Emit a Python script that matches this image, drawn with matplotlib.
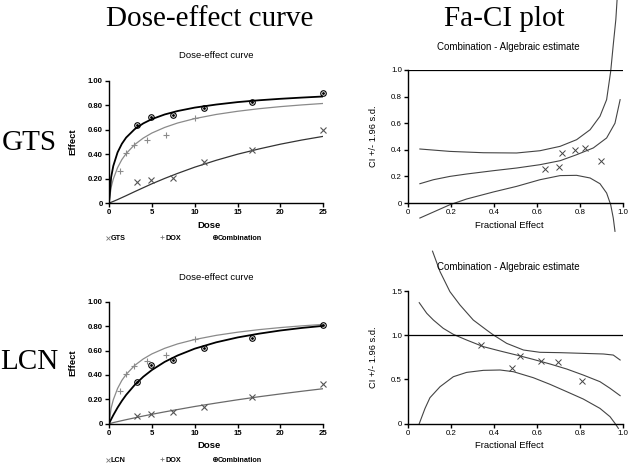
import matplotlib.pyplot as plt
import numpy as np

W, H = 630, 466

# dose-effect data (doses and fractional effects)
dose_drug = [3.29, 4.94, 7.41, 11.11, 16.67, 25]
dose_dox = [1.32, 1.98, 2.96, 4.44, 6.67, 10]
fa_gts = [0.169, 0.185, 0.207, 0.335, 0.430, 0.600]
fa_dox = [0.265, 0.405, 0.477, 0.518, 0.560, 0.695]
fa_combo_gts = [0.638, 0.703, 0.717, 0.776, 0.825, 0.897]
fa_lcn = [0.066, 0.082, 0.098, 0.134, 0.219, 0.325]
fa_combo_lcn = [0.339, 0.484, 0.522, 0.617, 0.699, 0.811]

# fitted curves
curve_dose = [0, 0.25, 0.5, 1, 1.5, 2, 3, 4, 5, 6.5, 8, 10, 12.5, 15, 17.5, 20, 22.5, 25]
curve_gts = [0, 0.006, 0.013, 0.028, 0.044, 0.060, 0.093, 0.125, 0.157, 0.201, 0.242, 0.293,
             0.349, 0.399, 0.442, 0.481, 0.515, 0.545]
curve_dox = [0, 0.128, 0.196, 0.289, 0.355, 0.404, 0.478, 0.531, 0.572, 0.618, 0.654, 0.690,
             0.724, 0.750, 0.771, 0.788, 0.802, 0.814]
curve_combo_gts = [0, 0.211, 0.303, 0.414, 0.484, 0.535, 0.604, 0.651, 0.686, 0.724, 0.752, 0.780,
                   0.805, 0.825, 0.840, 0.852, 0.862, 0.871]
curve_lcn = [0, 0.004, 0.009, 0.017, 0.025, 0.033, 0.048, 0.063, 0.077, 0.097, 0.116, 0.141,
             0.169, 0.196, 0.221, 0.244, 0.266, 0.287]
curve_combo_lcn = [0, 0.036, 0.070, 0.132, 0.187, 0.236, 0.318, 0.385, 0.440, 0.507, 0.559, 0.615,
                   0.667, 0.707, 0.738, 0.764, 0.785, 0.802]

# Fa-CI data
ci_gts = [0.256, 0.273, 0.376, 0.401, 0.416, 0.318]
ci_lcn = [0.890, 0.626, 0.769, 0.709, 0.701, 0.482]

gts_mid_fa = [0.054, 0.117, 0.194, 0.272, 0.397, 0.505, 0.614, 0.708, 0.785, 0.863, 0.925, 0.964, 0.988]
gts_mid_ci = [0.145, 0.175, 0.200, 0.218, 0.243, 0.263, 0.288, 0.318, 0.363, 0.414, 0.489, 0.600, 0.777]
gts_up_fa = [0.054, 0.194, 0.350, 0.505, 0.614, 0.708, 0.785, 0.848, 0.894, 0.925, 0.944, 0.956, 0.968, 0.975]
gts_up_ci = [0.406, 0.388, 0.378, 0.376, 0.393, 0.426, 0.476, 0.551, 0.652, 0.777, 0.990, 1.190, 1.380, 1.560]
gts_lo_fa = [0.054, 0.117, 0.194, 0.272, 0.397, 0.505, 0.614, 0.708, 0.785, 0.848, 0.894, 0.925, 0.944, 0.956, 0.964]
gts_lo_ci = [-0.113, -0.068, -0.013, 0.030, 0.083, 0.125, 0.175, 0.206, 0.208, 0.188, 0.145, 0.075,
             -0.013, -0.113, -0.213]

lcn_mid_fa = [0.051, 0.086, 0.117, 0.163, 0.21, 0.272, 0.35, 0.428, 0.505, 0.583, 0.661, 0.739, 0.816,
              0.894, 0.941, 0.988]
lcn_mid_ci = [1.368, 1.248, 1.172, 1.078, 1.010, 0.946, 0.871, 0.822, 0.776, 0.727, 0.675, 0.618, 0.550,
              0.475, 0.400, 0.317]
lcn_up_fa = [0.113, 0.148, 0.194, 0.241, 0.303, 0.365, 0.397, 0.459, 0.537, 0.614, 0.708, 0.816, 0.910,
             0.956, 0.988]
lcn_up_ci = [1.950, 1.719, 1.493, 1.342, 1.172, 1.059, 1.003, 0.908, 0.833, 0.807, 0.803, 0.795, 0.788,
             0.776, 0.720]
lcn_lo_fa = [0.051, 0.078, 0.101, 0.148, 0.21, 0.272, 0.35, 0.428, 0.49, 0.583, 0.661, 0.739, 0.816,
             0.894, 0.941, 0.964, 0.98]
lcn_lo_ci = [0.0, 0.173, 0.294, 0.418, 0.531, 0.580, 0.603, 0.607, 0.588, 0.520, 0.445, 0.362, 0.279,
             0.173, 0.079, 0.004, -0.053]

plt.rcParams['font.family'] = ['Liberation Sans', 'DejaVu Sans']

fig = plt.figure(figsize=(6.3, 4.66), dpi=100)


def px(x, y):
    return x / W, 1 - y / H


def add_ax(x0, y0, x1, y1):
    l, b = px(x0, y1)
    r, t = px(x1, y0)
    ax = fig.add_axes([l, b, r - l, t - b])
    ax.patch.set_visible(False)
    for s in ['top', 'right']:
        ax.spines[s].set_visible(False)
    for s in ['left', 'bottom']:
        ax.spines[s].set_linewidth(1.0)
    ax.tick_params(direction='out', length=3, width=1, pad=1.5)
    return ax


def dose_panel(y_top, y_bot, drug, fa_drug, fa_combo, c_drug, c_combo, drug_col, legend_y, title_y, xlabel_y):
    ax = add_ax(109, y_top, 323.3, y_bot)
    ax.plot(curve_dose, c_drug, color=drug_col, lw=0.9)
    ax.plot(curve_dose, curve_dox, color='#8a8a8a', lw=0.9)
    ax.plot(curve_dose, c_combo, color='black', lw=1.3)
    ax.plot(dose_drug, fa_drug, 'x', color='#555555', ms=4.5, mew=0.8, clip_on=False)
    ax.plot(dose_dox, fa_dox, '+', color='#8a8a8a', ms=5, mew=0.8, clip_on=False)
    ax.plot(dose_drug, fa_combo, 'o', mfc='none', mec='black', ms=4, mew=0.8, clip_on=False)
    ax.plot(dose_drug, fa_combo, '.', color='black', ms=2, clip_on=False)
    ax.set_xlim(0, 25)
    ax.set_ylim(0, 1)
    ax.set_xticks([0, 5, 10, 15, 20, 25])
    ax.set_yticks([0, 0.2, 0.4, 0.6, 0.8, 1.0])
    ax.set_yticklabels(['0', '0.20', '0.40', '0.60', '0.80', '1.00'])
    for lab in ax.get_xticklabels() + ax.get_yticklabels():
        lab.set_fontsize(5.6)
        lab.set_fontweight('bold')
    fig.text(*px(216, title_y), 'Dose-effect curve', fontsize=6.8, ha='center', va='center')
    fig.text(*px(209, xlabel_y), 'Dose', fontsize=6.8, fontweight='bold', ha='center', va='center')
    fig.text(*px(73, (y_top + y_bot) / 2), 'Effect', fontsize=6.8, fontweight='bold',
             rotation=90, ha='center', va='center')
    # legend row
    lx = [107.5, 162, 215]
    labels = [drug, 'DOX', 'Combination']
    fig.lines.append(plt.Line2D([px(lx[0], 0)[0]], [px(0, legend_y)[1]], marker='x', color='#777777',
                                ms=3, mew=0.6, transform=fig.transFigure))
    fig.lines.append(plt.Line2D([px(lx[1], 0)[0]], [px(0, legend_y - 1)[1]], marker='+', color='#777777',
                                ms=3.5, mew=0.6, transform=fig.transFigure))
    fig.lines.append(plt.Line2D([px(lx[2], 0)[0]], [px(0, legend_y - 1.5)[1]], marker='o', mfc='none',
                                mec='black', ms=3, mew=0.6, transform=fig.transFigure))
    fig.lines.append(plt.Line2D([px(lx[2], 0)[0]], [px(0, legend_y - 1.5)[1]], marker='.', color='black',
                                ms=1.5, transform=fig.transFigure))
    for x, t in zip(lx, labels):
        fig.text(*px(x + 3, legend_y), t, fontsize=5.2, fontweight='bold', ha='left', va='center')
    return ax


def ci_panel(y_top, y_bot, ymax, yticks, yticklabels, fa_combo, ci, mid, up, lo, title_y, xlabel_y):
    ax = add_ax(408.3, y_top, 622.7, y_bot)
    curve_kw = dict(color='#444444', lw=0.8, clip_on=False)
    ax.plot(mid[0], mid[1], **curve_kw)
    ax.plot(up[0], up[1], **curve_kw)
    ax.plot(lo[0], lo[1], **curve_kw)
    ax.axhline(1.0, color='black', lw=0.9)
    ax.plot(fa_combo, ci, 'x', color='#444444', ms=4.5, mew=0.7, clip_on=False)
    ax.set_xlim(0, 1)
    ax.set_ylim(0, ymax)
    ax.set_xticks([0, 0.2, 0.4, 0.6, 0.8, 1.0])
    ax.set_xticklabels(['0', '0.2', '0.4', '0.6', '0.8', '1.0'])
    ax.set_yticks(yticks)
    ax.set_yticklabels(yticklabels)
    for lab in ax.get_xticklabels() + ax.get_yticklabels():
        lab.set_fontsize(5.7)
    fig.text(*px(508, title_y), 'Combination - Algebraic estimate', fontsize=7, ha='center', va='center')
    fig.text(*px(509, xlabel_y), 'Fractional Effect', fontsize=6.8, ha='center', va='center')
    fig.text(*px(373, (y_top + y_bot) / 2), 'CI +/- 1.96 s.d.', fontsize=6.7,
             rotation=90, ha='center', va='center')
    return ax


dose_panel(80.7, 203, 'GTS', fa_gts, fa_combo_gts, curve_gts, curve_combo_gts, '#333333',
           238, 55, 225)
dose_panel(301.7, 423.7, 'LCN', fa_lcn, fa_combo_lcn, curve_lcn, curve_combo_lcn, '#6a6a6a',
           460, 277, 446)

ci_panel(70, 203, 1.0, [0, 0.2, 0.4, 0.6, 0.8, 1.0], ['0', '0.2', '0.4', '0.6', '0.8', '1.0'],
         fa_combo_gts, ci_gts, (gts_mid_fa, gts_mid_ci), (gts_up_fa, gts_up_ci), (gts_lo_fa, gts_lo_ci),
         47, 225)
ci_panel(291, 423.7, 1.5, [0, 0.5, 1.0, 1.5], ['0', '0.5', '1.0', '1.5'],
         fa_combo_lcn, ci_lcn, (lcn_mid_fa, lcn_mid_ci), (lcn_up_fa, lcn_up_ci), (lcn_lo_fa, lcn_lo_ci),
         267, 446)

# big serif headers
serif = ['Liberation Serif', 'DejaVu Serif']
fig.text(*px(210, 19), 'Dose-effect curve', fontsize=21, family=serif, ha='center', va='center')
fig.text(*px(504, 19), 'Fa-CI plot', fontsize=21, family=serif, ha='center', va='center')
fig.text(*px(29, 143), 'GTS', fontsize=21, family=serif, ha='center', va='center')
fig.text(*px(29, 362), 'LCN', fontsize=21, family=serif, ha='center', va='center')

plt.savefig('out.png', dpi=100)
